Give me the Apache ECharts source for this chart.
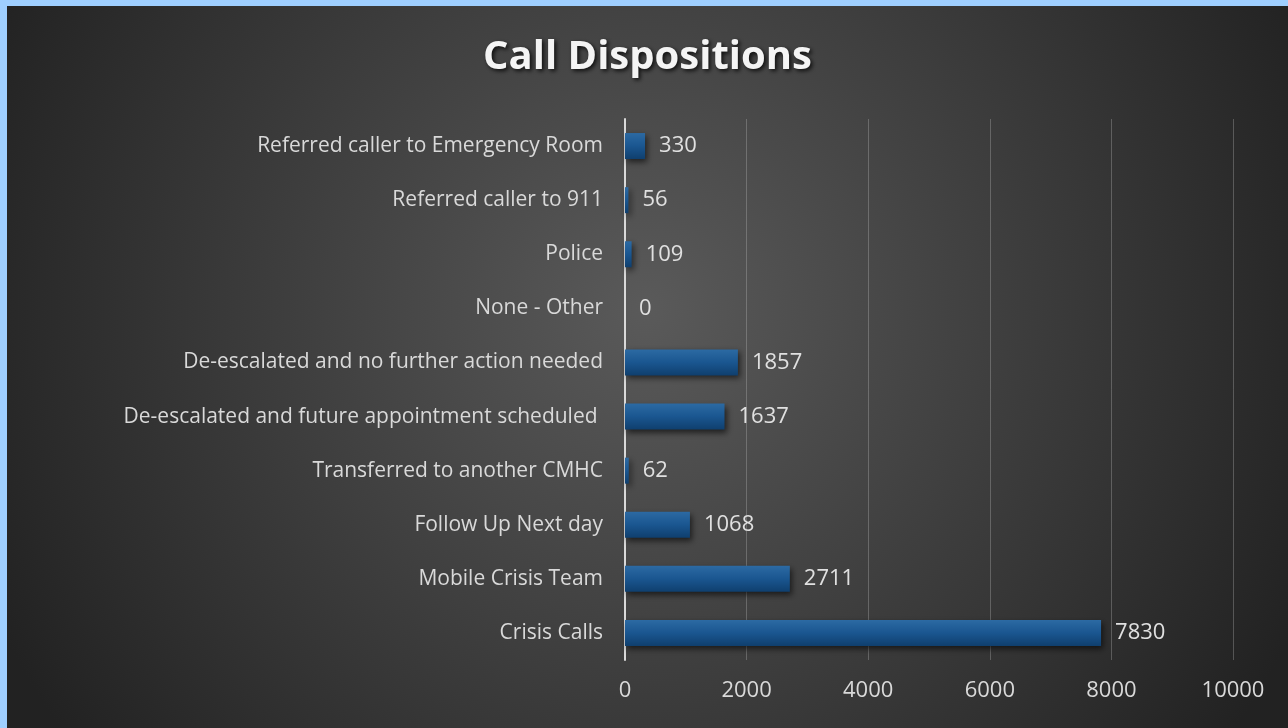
<!DOCTYPE html>
<html>
<head>
<meta charset="utf-8">
<script src="https://cdn.jsdelivr.net/npm/echarts@6/dist/echarts.min.js"></script>
<style>
html,body{margin:0;padding:0;background:#9fcfff;width:1288px;height:728px;overflow:hidden;}
#chart{position:absolute;left:7px;top:6px;width:1281px;height:722px;}
</style>
</head>
<body>
<div id="chart"></div>
<script>
const categories = [
  'Crisis Calls',
  'Mobile Crisis Team',
  'Follow Up Next day',
  'Transferred to another CMHC',
  'De-escalated and future appointment scheduled ',
  'De-escalated and no further action needed',
  'None - Other',
  'Police',
  'Referred caller to 911',
  'Referred caller to Emergency Room'
];
const values = [7830, 2711, 1068, 62, 1637, 1857, 0, 109, 56, 330];
const xTicks = [0, 2000, 4000, 6000, 8000, 10000];

const FONT = 'Open Sans';
const chart = echarts.init(document.getElementById('chart'));
chart.setOption({
  backgroundColor: {
    type: 'radial', x: 0.5, y: 0.42, r: 1.0,
    colorStops: [
      {offset: 0, color: '#5a5a5a'},
      {offset: 1, color: '#222222'}
    ]
  },
  title: {
    text: 'Call Dispositions',
    left: 'center',
    top: 27,
    textStyle: {
      color: '#f4f4f4', fontFamily: FONT, fontWeight: 'bold', fontSize: 40,
      textShadowColor: 'rgba(0,0,0,0.8)', textShadowBlur: 4, textShadowOffsetX: 2, textShadowOffsetY: 2
    }
  },
  grid: {left: 618, right: 55, top: 113, height: 541, containLabel: false},
  xAxis: {
    type: 'value', min: xTicks[0], max: xTicks[xTicks.length-1], interval: 2000,
    axisLine: {show: false}, axisTick: {show: false},
    splitLine: {show: true, lineStyle: {color: 'rgba(200,200,200,0.3)', width: 1}},
    axisLabel: {color: '#d9d9d9', fontFamily: FONT, fontSize: 22, margin: 20, formatter: v => String(v)}
  },
  yAxis: {
    type: 'category', data: categories,
    axisLine: {show: true, lineStyle: {color: '#d9d9d9', width: 2}},
    axisTick: {show: false},
    axisLabel: {color: '#d9d9d9', fontFamily: FONT, fontSize: 21, margin: 22}
  },
  series: [{
    type: 'bar', data: values, barWidth: 26,
    itemStyle: {
      color: {type: 'linear', x: 0, y: 0, x2: 0, y2: 1, colorStops: [
        {offset: 0, color: '#2c6aa3'},
        {offset: 0.5, color: '#1a5690'},
        {offset: 1, color: '#0f3f6e'}
      ]},
      shadowColor: 'rgba(0,0,0,0.6)', shadowBlur: 6, shadowOffsetX: 2, shadowOffsetY: 3
    },
    label: {show: true, position: 'right', distance: 14, color: '#e0e0e0', fontFamily: FONT, fontSize: 22}
  }]
});
</script>
</body>
</html>
